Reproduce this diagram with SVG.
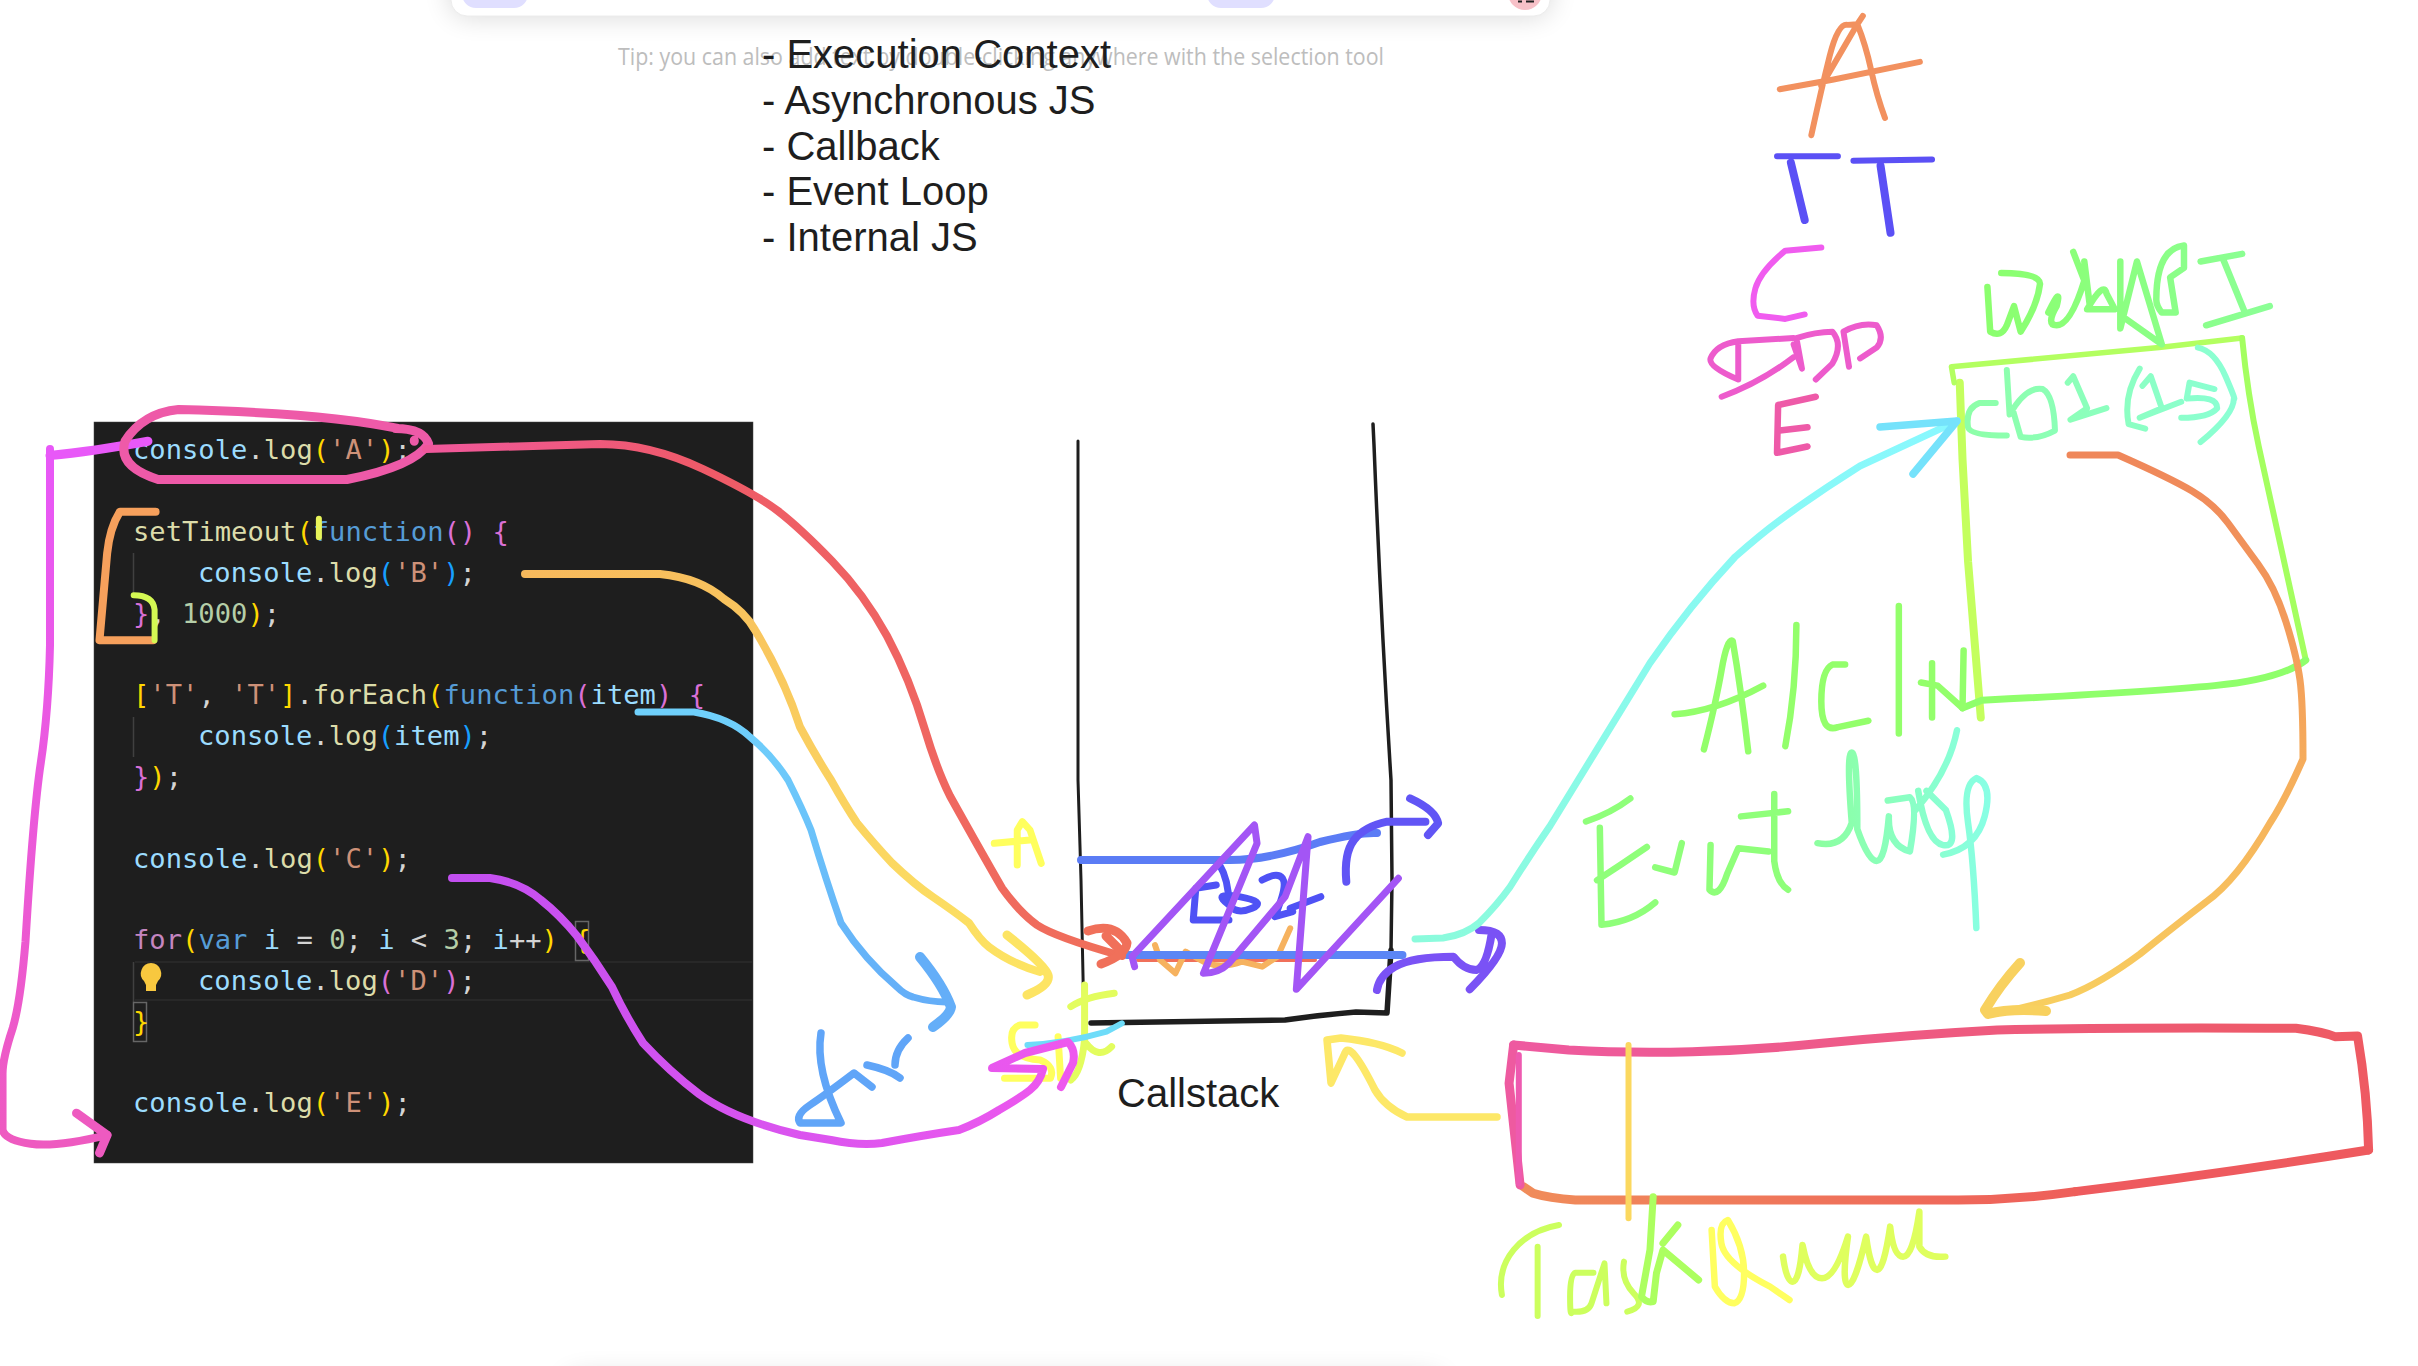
<svg xmlns="http://www.w3.org/2000/svg" width="2418" height="1366" viewBox="0 0 2418 1366">
<style>
.s,.s path{fill:none;stroke-linecap:round;stroke-linejoin:round;vector-effect:non-scaling-stroke}
.code{font-family:"DejaVu Sans Mono","Liberation Mono",monospace;font-size:27.15px;fill:#d4d4d4}
.c{fill:#9cdcfe}.f{fill:#dcdcaa}.p{fill:#ffd700}.b{fill:#179fff}.t{fill:#ce9178}.k{fill:#569cd6}.m{fill:#da70d6}.n{fill:#b5cea8}.q{fill:#c586c0}
.list{font-family:"Liberation Sans",Arial,sans-serif;font-size:40px;fill:#1e1e1e}
</style>
<defs>
<filter id="soft" x="-10%" y="-100%" width="120%" height="400%"><feGaussianBlur stdDeviation="14"/></filter>
<linearGradient id="gRed" x1="0" x2="1" y1="0" y2="0"><stop offset="0" stop-color="#f0589c"/><stop offset=".4" stop-color="#ee5a68"/><stop offset="1" stop-color="#f0705a"/></linearGradient>
<linearGradient id="gB" x1="0" x2="1" y1="0" y2="1"><stop offset="0" stop-color="#f7b95c"/><stop offset="1" stop-color="#fde463"/></linearGradient>
<linearGradient id="gItem" x1="0" x2="0" y1="0" y2="1"><stop offset="0" stop-color="#6fd0fb"/><stop offset="1" stop-color="#64aef8"/></linearGradient>
<linearGradient id="gC" x1="0" x2="1" y1="0" y2="0"><stop offset="0" stop-color="#c24ff0"/><stop offset="1" stop-color="#ee58ee"/></linearGradient>
<linearGradient id="gE" x1="0" x2="0" y1="0" y2="1"><stop offset="0" stop-color="#e858f8"/><stop offset="1" stop-color="#ee5ac0"/></linearGradient>
<linearGradient id="gTeal" x1="0" x2="1" y1="1" y2="0"><stop offset="0" stop-color="#8bfbdc"/><stop offset="1" stop-color="#88f8ff"/></linearGradient>
<linearGradient id="gOr" x1="0" x2="0" y1="0" y2="1"><stop offset="0" stop-color="#ef875a"/><stop offset=".5" stop-color="#f5a85b"/><stop offset="1" stop-color="#f8cf5f"/></linearGradient>
<linearGradient id="gTop" x1="0" x2="1" y1="0" y2="0"><stop offset="0" stop-color="#ee5aa0"/><stop offset="1" stop-color="#ee5a62"/></linearGradient>
<linearGradient id="gBot" x1="0" x2="1" y1="0" y2="0"><stop offset="0" stop-color="#f08c5a"/><stop offset="1" stop-color="#ee5e5a"/></linearGradient>
<linearGradient id="gWeb" x1="0" x2="1" y1="0" y2="0"><stop offset="0" stop-color="#8bff6e"/><stop offset="1" stop-color="#8bff96"/></linearGradient>
<linearGradient id="gCb" x1="0" x2="1" y1="0" y2="0"><stop offset="0" stop-color="#8dffa8"/><stop offset="1" stop-color="#8bffd4"/></linearGradient>
<linearGradient id="gLoop" x1="0" x2="1" y1="0" y2="0"><stop offset="0" stop-color="#8cffa0"/><stop offset="1" stop-color="#88ffe4"/></linearGradient>
</defs>
<rect width="2418" height="1366" fill="#fff"/>

<g id="toolbar">
<rect x="451" y="-40" width="1099" height="56" rx="16" fill="#000" opacity=".16" filter="url(#soft)"/>
<rect x="565" y="1376" width="879" height="56" rx="16" fill="#000" opacity=".14" filter="url(#soft)"/>
<rect x="451" y="-40" width="1099" height="56" rx="16" fill="#fff" stroke="#ececec"/>
<rect x="462" y="-30" width="66" height="38" rx="14" fill="#e0dfff"/>
<rect x="1207" y="-30" width="68" height="38" rx="14" fill="#e0dfff"/>
<circle cx="1525" cy="-7" r="17" fill="#f7c1c8"/>
<path d="M1518 1.500h4M1526 1.500h8" stroke="#222" stroke-width="2" fill="none"/>
</g>
<g id="hint"><text x="618" y="65" textLength="766" lengthAdjust="spacingAndGlyphs" font-family="'Open Sans',sans-serif" font-size="24" fill="#bdbdbd">Tip: you can also add text by double-clicking anywhere with the selection tool</text></g>
<g id="intro-list" class="list">
<text x="762" y="68">- Execution Context</text>
<text x="762" y="114">- Asynchronous JS</text>
<text x="762" y="160">- Callback</text>
<text x="762" y="205">- Event Loop</text>
<text x="762" y="251">- Internal JS</text>
</g>

<g id="code-panel">
<rect x="94" y="422" width="659" height="741" fill="#1e1e1e" stroke="#444" stroke-width="0.5"/>
<path d="M135 962H753M135 1000H753" stroke="#282828" stroke-width="2" fill="none"/>
<path d="M133.500 553V594M133.500 717V757M133.500 962V1002" stroke="#404040" stroke-width="1.500" fill="none"/>
<rect x="575.500" y="921.500" width="13" height="39" fill="none" stroke="#666" stroke-width="1.500"/>
<rect x="133.500" y="1002.500" width="13" height="39" fill="none" stroke="#666" stroke-width="1.500"/>
<path d="M151 963a10.500 10.500 0 0 1 7 18l-2 4v6h-10v-6l-2-4a10.500 10.500 0 0 1 7-18z" fill="#f8c83f"/>
<g class="code" xml:space="preserve">
<text x="133" y="459"><tspan class="c">console</tspan>.<tspan class="f">log</tspan><tspan class="p">(</tspan><tspan class="t">'A'</tspan><tspan class="p">)</tspan>;</text>
<text x="133" y="540.500"><tspan class="f">setTimeout</tspan><tspan class="p">(</tspan><tspan class="k">function</tspan><tspan class="m">() {</tspan></text>
<text x="198" y="582"><tspan class="c">console</tspan>.<tspan class="f">log</tspan><tspan class="b">(</tspan><tspan class="t">'B'</tspan><tspan class="b">)</tspan>;</text>
<text x="133" y="623"><tspan class="m">}</tspan>, <tspan class="n">1000</tspan><tspan class="p">)</tspan>;</text>
<text x="133" y="704"><tspan class="p">[</tspan><tspan class="t">'T'</tspan>, <tspan class="t">'T'</tspan><tspan class="p">]</tspan>.<tspan class="f">forEach</tspan><tspan class="p">(</tspan><tspan class="k">function</tspan><tspan class="m">(</tspan><tspan class="c">item</tspan><tspan class="m">) {</tspan></text>
<text x="198" y="745"><tspan class="c">console</tspan>.<tspan class="f">log</tspan><tspan class="b">(</tspan><tspan class="c">item</tspan><tspan class="b">)</tspan>;</text>
<text x="133" y="786"><tspan class="m">}</tspan><tspan class="p">)</tspan>;</text>
<text x="133" y="868"><tspan class="c">console</tspan>.<tspan class="f">log</tspan><tspan class="p">(</tspan><tspan class="t">'C'</tspan><tspan class="p">)</tspan>;</text>
<text x="133" y="949"><tspan class="q">for</tspan><tspan class="p">(</tspan><tspan class="k">var</tspan> <tspan class="c">i</tspan> = <tspan class="n">0</tspan>; <tspan class="c">i</tspan> &lt; <tspan class="n">3</tspan>; <tspan class="c">i</tspan>++<tspan class="p">)</tspan> <tspan class="p">{</tspan></text>
<text x="198" y="990"><tspan class="c">console</tspan>.<tspan class="f">log</tspan><tspan class="m">(</tspan><tspan class="t">'D'</tspan><tspan class="m">)</tspan>;</text>
<text x="133" y="1031"><tspan class="p">}</tspan></text>
<text x="133" y="1112"><tspan class="c">console</tspan>.<tspan class="f">log</tspan><tspan class="p">(</tspan><tspan class="t">'E'</tspan><tspan class="p">)</tspan>;</text>
</g>
</g>

<g id="callstack">
<path class="s" stroke="#1e1e1e" stroke-width="3" d="M1078 441V780L1081 880L1084 1023"/>
<path class="s" stroke="#1e1e1e" stroke-width="3.500" d="M1373 424L1374 445Q1381 620 1391 780L1392 880L1391 950"/>
<path class="s" stroke="#1e1e1e" stroke-width="5.500" d="M1391 950L1387 1013L1356 1012Q1320 1015 1285 1020L1091 1023"/>
<path class="s" stroke="#5b7cf5" stroke-width="8" d="M1081 860H1230Q1270 860 1320 842Q1360 832 1377 833"/>
<path class="s" stroke="#f0705a" stroke-width="4" d="M1138 960H1315"/>
<g class="s" transform="translate(780 780) scale(.5102 .3333)">
<path stroke="#f6b25f" stroke-width="6" d="M735 495 745 540 775 580 795 515 830 545 850 555Q880 560 905 545L945 560 975 530 1000 445"/>
<path stroke="#5b86f5" stroke-width="8" d="M680 525H1220"/>
<path stroke="#4f52f5" stroke-width="7" d="M855 315 815 325 810 420H880M860 250Q880 300 880 375Q895 405 925 385T900 350 880 375M945 300Q975 275 985 295T970 410L1005 395M1060 350 1000 385"/>
<path stroke="#a355f5" stroke-width="7" d="M695 560 690 530 930 135 935 190 830 580Q860 580 880 550L990 350 1035 170 1012 628 1212 295"/>
<path stroke="#6155f5" stroke-width="8" d="M1110 305Q1105 220 1125 180T1190 125L1265 125M1235 55Q1285 90 1290 130L1270 165"/>
<path stroke="#7a52f5" stroke-width="8" d="M1170 630Q1175 585 1205 560Q1240 530 1320 530Q1340 570 1365 570Q1385 560 1395 460M1370 450Q1415 450 1415 490T1352 628"/>
<path stroke="#ffff5e" stroke-width="7" d="M420 190 490 180M465 255 465 150 475 125 490 150 512 250"/>
<path stroke="#ffff5e" stroke-width="7" d="M500 735H470Q450 745 455 790T510 840Q540 860 530 895H440M545 770 550 895"/>
<path stroke="#e3fd5e" stroke-width="7" d="M597 615V780Q590 880 570 900M570 680Q600 650 655 640M600 790Q625 840 650 800"/>
<path stroke="#6edcf9" stroke-width="6" d="M485 795Q560 790 640 755L670 730"/>
</g>
<text x="1117" y="1107" font-family="'Liberation Sans',Arial,sans-serif" font-size="40" fill="#1e1e1e">Callstack</text>
</g>

<g id="stack-writing" class="s" transform="translate(1550 0) scale(.5537 .6378)">
<path stroke="#f2915f" stroke-width="6" d="M472 212Q490 140 505 88T537 39L555 38 490 135M555 38Q570 70 580 110T605 185M415 140 510 125 668 97M555 38 565 25"/>
<path stroke="#5b50f5" stroke-width="6" d="M410 245H520M548 252 690 250"/>
<path stroke="#5b50f5" stroke-width="8" d="M435 255 460 345M597 260 615 365"/>
<path stroke="#f05cef" stroke-width="6" d="M490 388 425 393Q380 425 371 452T375 495L425 500 460 493"/>
<path stroke="#ed5bcc" stroke-width="6" d="M340 540V595Q285 575 290 562Q300 540 340 535L440 530M310 622Q380 600 440 560M440 540 455 578 445 530Q480 520 510 520Q530 540 510 570L480 595M540 575 530 520Q560 505 590 510Q605 530 590 545L560 562"/>
<path stroke="#ee5aa8" stroke-width="6.500" d="M480 622 412 635 410 710 465 700M415 675 465 670"/>
</g>

<g id="web-api">
<g class="s" transform="translate(1550 0) scale(.5537 .6378)">
<path stroke="#c4ff5e" stroke-width="8" d="M740 600 745 720 755 880 778 1125"/>
<path stroke="#b3ff60" stroke-width="5.500" d="M1250 530 1100 545 725 575 730 600"/>
<path stroke="#a4ff60" stroke-width="6" d="M1250 530Q1260 620 1280 700T1365 1035"/>
<path stroke="#8fff6b" stroke-width="7" d="M1365 1035Q1320 1065 1200 1075T780 1098L745 1110"/>
<path stroke="url(#gWeb)" stroke-width="6.500" d="M790 450 795 520Q815 530 825 510L838 480 850 520Q880 480 885 445Q885 428 815 428M900 490Q925 445 915 480Q895 510 915 510Q940 510 965 440L945 395M965 410 975 480M970 485Q1000 440 1005 460L1020 485ZM1030 410V515L1060 410 1105 540 1040 500M1095 470Q1095 390 1145 385V420L1120 435 1130 490H1105Q1095 480 1095 470M1175 410 1250 398M1215 405 1255 490M1185 510 1300 480"/>
<path stroke="url(#gCb)" stroke-width="6" d="M805 632H775Q750 640 755 670Q760 683 825 683M825 580 830 650Q860 605 890 610Q910 620 912 675Q880 690 850 685L835 640M935 600 945 590 970 640 940 658 1005 640M1065 578Q1035 620 1045 665L1075 672M1070 605 1085 590 1105 640 1065 655 1140 630M1200 610 1155 600 1150 625Q1205 620 1205 640Q1190 655 1140 655M1170 545Q1200 550 1220 590T1235 625Q1235 650 1175 693"/>
</g>
</g>

<g id="event-loop-writing" class="s" transform="translate(1550 0) scale(.5537 .6378)">
<path stroke="#93ff6b" stroke-width="6.500" d="M225 1120Q300 1115 385 1075M278 1175Q300 1100 310 1050T330 1005Q345 1080 358 1178M445 980Q445 1080 425 1170M533 1042H510Q490 1050 490 1100T520 1140L575 1130M630 950V1150M690 1040V1125M670 1070 700 1075 745 1110 747 1020"/>
<path stroke="#8fff7a" stroke-width="6.500" d="M90 1298 93 1450Q150 1445 190 1415M85 1380Q130 1355 175 1328M65 1288Q110 1275 145 1252M190 1360 225 1368 238 1322M290 1325 288 1395Q305 1410 320 1370L340 1330 395 1335M405 1245V1350Q410 1385 430 1395M345 1280 430 1272"/>
<path stroke="url(#gLoop)" stroke-width="6.500" d="M483 1322Q530 1330 545 1290Q535 1180 545 1180T555 1300Q575 1350 590 1350T612 1280Q610 1325 650 1335Q665 1260 650 1250L610 1255M665 1240Q680 1320 710 1325T715 1270L680 1240M710 1340Q770 1330 785 1280T770 1220Q745 1230 755 1290T770 1455M735 1145Q720 1210 660 1270"/>
</g>

<g id="task-queue">
<g class="s" transform="translate(1400 950) scale(.6492 .3333)">
<path stroke="url(#gTop)" stroke-width="9" d="M175 285 260 300Q350 310 450 305T650 280Q780 255 920 240Q1100 232 1380 235Q1420 245 1440 260L1475 258Q1490 430 1492 600"/>
<path stroke="#ee5a5e" stroke-width="9" d="M1492 600Q1250 675 1040 725"/>
<path stroke="url(#gBot)" stroke-width="9" d="M1040 725Q950 750 860 750H270Q230 745 205 730L190 710"/>
<path stroke="#ee5aa0" stroke-width="9" d="M175 285 168 400 185 705"/>
<path stroke="#ee5ab0" stroke-width="6" d="M183 315V700"/>
<path stroke="#fbd85f" stroke-width="6" d="M352 285V805"/>
<path stroke="#ccff5e" stroke-width="6" d="M245 825Q200 840 175 900T157 1035M212 890V1098M298 968H270Q262 975 262 1040T265 1085Q290 1090 295 1060T315 940L318 1060M345 935Q340 990 360 1030T350 1085"/>
<path stroke="#acff60" stroke-width="7" d="M390 740 385 900 372 1040Q380 1060 390 1055L395 970 405 900 460 990M405 880 428 825"/>
<path stroke="#ffff60" stroke-width="6.500" d="M480 840 485 1010Q500 1060 515 1060Q530 1050 530 970T505 810Q490 820 495 880T570 1010L600 1050"/>
<path stroke="#dfff5e" stroke-width="6.500" d="M590 920Q595 995 605 995T620 885Q630 985 650 985T690 860Q680 1000 690 1005T718 860Q725 960 735 960T755 830Q760 920 775 920T800 785V890Q810 925 840 920"/>
</g>
</g>

<g id="connectors" class="s">
<g transform="translate(0 380) scale(.5102)">
<path stroke="url(#gE)" stroke-width="8" d="M98 135V520Q95 650 80 750T50 1100Q40 1220 25 1270Q5 1330 5 1360V1470Q10 1490 60 1497T210 1480"/>
<path stroke="#ee5ac0" stroke-width="9" d="M150 1437 210 1480 195 1515"/>
<path stroke="#e858f8" stroke-width="9" d="M98 148Q180 140 290 120"/>
<path stroke="#ee5aa8" stroke-width="9" d="M780 95Q640 65 350 58Q280 65 245 120Q230 170 310 195H680Q810 170 840 125Q830 95 775 95M812 118V120"/>
<path stroke="#f6a05c" stroke-width="8" d="M305 258H235Q215 290 210 340L195 510H300"/>
<path stroke="#d4f853" stroke-width="6" d="M262 422Q300 422 303 450V510"/>
<path stroke="#e8f55a" stroke-width="6" d="M625 272V308"/>
</g>
<path stroke="url(#gRed)" stroke-width="8" d="M426 449L600 444Q650 444 703 469Q756 494 778 511Q800 528 832 561Q864 594 887 636Q910 679 925 730Q937 770 950 796Q984 857 1002 888Q1020 913 1037 925Q1055 937 1122 956"/>
<path stroke="#f0705a" stroke-width="9" d="M1088 931Q1115 922 1127 943Q1126 955 1101 964M1106 936 1120 950"/>
<path stroke="url(#gB)" stroke-width="8" d="M525 574L660 574Q700 578 724 599Q745 612 755 630Q785 680 800 727Q815 755 831 780Q845 805 857 823Q875 845 892 863Q915 885 933 897Q955 912 969 923Q980 940 989 947Q1010 963 1040 972"/>
<path stroke="#fde463" stroke-width="9" d="M1007 935Q1045 965 1048 975T1027 995"/>
<path stroke="url(#gItem)" stroke-width="7" d="M638 712L694 712Q730 718 750 737Q772 755 788 780Q803 810 811 830Q826 880 841 923Q865 960 897 987Q905 995 913 997Q930 1002 946 1002"/>
<path stroke="#64aef8" stroke-width="10" d="M920 957Q943 985 951 1007Q950 1015 933 1027"/>
<path stroke="#60a5f8" stroke-width="7.500" d="M821 1033Q815 1070 841 1123L800 1123Q795 1115 810 1105T854 1073L872 1087M867 1065Q890 1070 900 1078M895 1065Q895 1050 908 1038"/>
<path stroke="url(#gC)" stroke-width="8" d="M452 878L490 878Q520 882 541 900Q560 915 577 936Q595 960 612 987Q625 1015 643 1043Q670 1072 699 1094Q735 1120 800 1135L831 1140Q860 1146 882 1143Q925 1135 959 1130Q980 1122 999 1110Q1020 1098 1030 1090Q1040 1082 1043 1069L992 1068L1025 1053L1068 1042Q1076 1050 1073 1063L1061 1087"/>
<path stroke="#fde868" stroke-width="7.500" d="M1497 1117H1407Q1385 1107 1375 1090Q1350 1040 1345 1053L1331 1083L1327 1040L1341 1038Q1380 1042 1402 1053"/>
<path stroke="url(#gTeal)" stroke-width="7" d="M1415 939L1443 938Q1465 935 1479 923Q1497 905 1510 887Q1530 855 1550 826Q1600 745 1650 663Q1690 605 1735 557Q1765 530 1794 510Q1825 488 1860 466L1957 421"/>
<path stroke="#75e2fb" stroke-width="7.500" d="M1880 427 1957 421 1913 474"/>
<path stroke="url(#gOr)" stroke-width="7" d="M2070 455L2118 455Q2170 478 2192 491Q2214 504 2228 523Q2242 542 2258 564Q2275 587 2286 622Q2297 657 2300 680Q2303 702 2303 759Q2285 800 2270 823Q2237 880 2206 902Q2176 925 2140 954Q2101 983 2070 995Q2036 1005 2004 1012"/>
<path stroke="#f8d15f" stroke-width="10" d="M2020 963Q2000 985 1985 1010L1988 1014Q2010 1008 2046 1011"/>
</g>
</svg>
